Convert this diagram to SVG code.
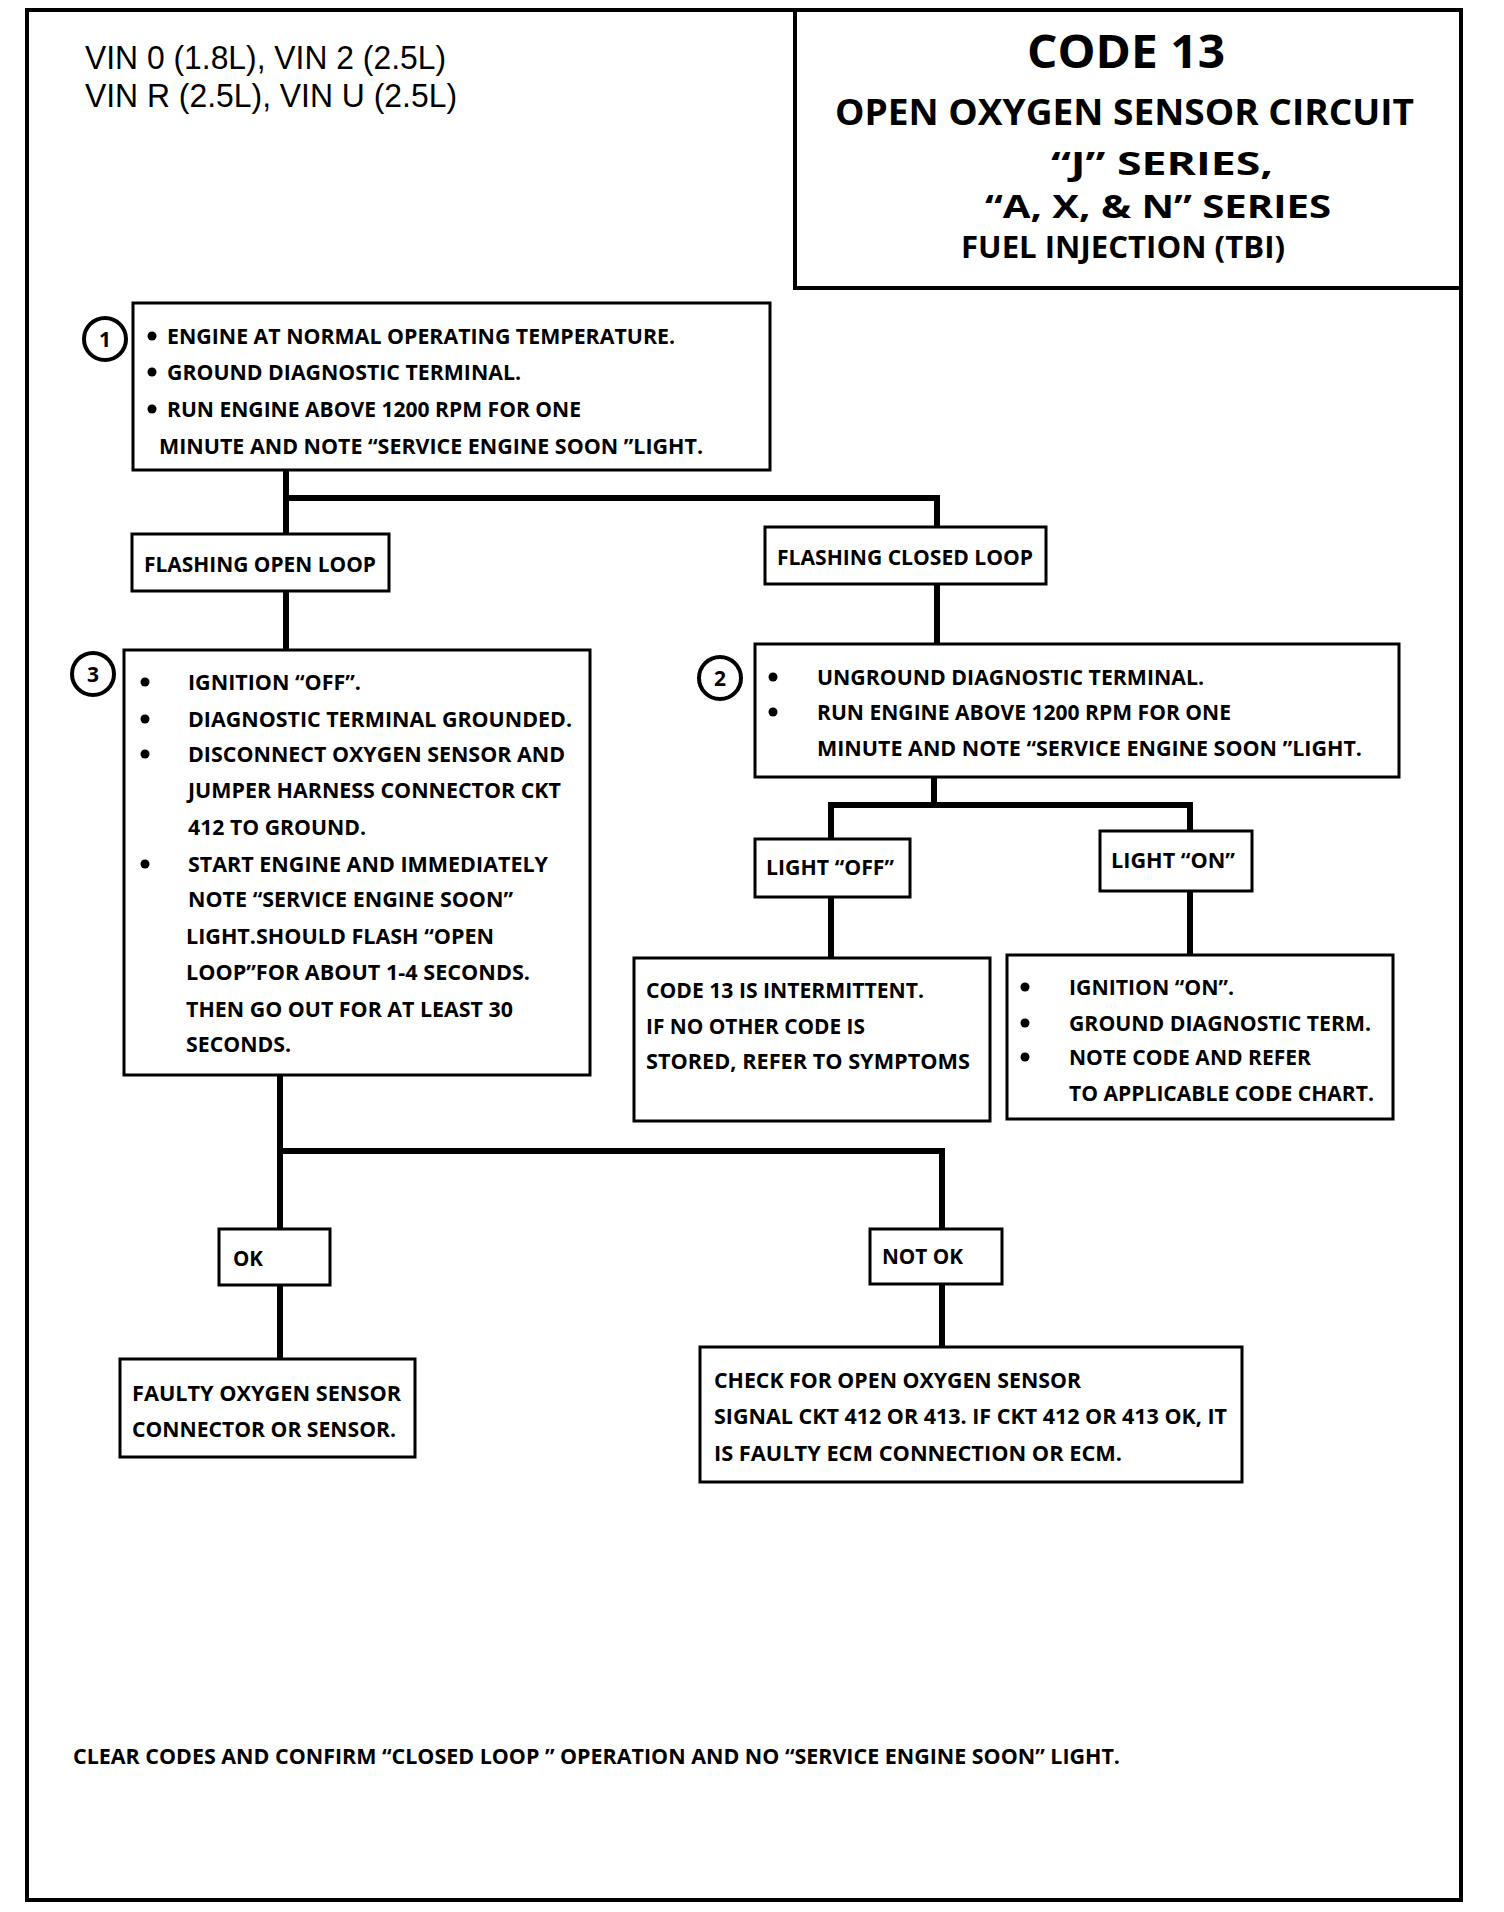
<svg xmlns="http://www.w3.org/2000/svg" width="1504" height="1912" viewBox="0 0 1504 1912">
<style>
.bg{fill:#fff}
.box{fill:#fff;stroke:#000;stroke-width:3}
.frame{fill:none;stroke:#000;stroke-width:4}
.wire{fill:none;stroke:#000;stroke-width:6;stroke-linecap:square}
.t{font-family:"Open Sans","Liberation Sans",sans-serif;font-weight:700;font-size:21px;fill:#000}
.ttl{font-family:"Open Sans","Liberation Sans",sans-serif;font-weight:700;fill:#000}
.vin{font-family:"Liberation Sans",Arial,sans-serif;font-size:33px;fill:#000}
.num{fill:#fff;stroke:#000;stroke-width:4}
.numt{font-family:"Open Sans","Liberation Sans",sans-serif;font-weight:700;font-size:21px;fill:#000;text-anchor:middle}
.dot{fill:#000}
</style>
<rect class="bg" x="0" y="0" width="1504" height="1912"/>
<rect class="frame" x="27" y="10" width="1434" height="1890"/>

<g id="header">
<text class="vin" x="85" y="69" textLength="361" lengthAdjust="spacingAndGlyphs">VIN 0 (1.8L), VIN 2 (2.5L)</text>
<text class="vin" x="85" y="107" textLength="372" lengthAdjust="spacingAndGlyphs">VIN R (2.5L), VIN U (2.5L)</text>
</g>

<g id="title">
<path class="frame" d="M795 10 V288 H1461"/>
<text class="ttl" x="1027" y="68" font-size="46" textLength="198" lengthAdjust="spacingAndGlyphs">CODE 13</text>
<text class="ttl" x="835" y="125" font-size="35" textLength="579" lengthAdjust="spacingAndGlyphs">OPEN OXYGEN SENSOR CIRCUIT</text>
<text class="ttl" x="1051" y="175" font-size="32" textLength="222" lengthAdjust="spacingAndGlyphs">“J”  SERIES,</text>
<text class="ttl" x="985" y="218" font-size="32" textLength="346" lengthAdjust="spacingAndGlyphs">“A, X, &amp; N” SERIES</text>
<text class="ttl" x="961" y="258" font-size="30" textLength="324" lengthAdjust="spacingAndGlyphs">FUEL INJECTION (TBI)</text>
</g>

<g id="connectors">
<path class="wire" d="M286 470 V532"/>
<path class="wire" d="M286 498 H937 V526"/>
<path class="wire" d="M286 591 V650"/>
<path class="wire" d="M937 584 V644"/>
<path class="wire" d="M934 777 V805"/>
<path class="wire" d="M831 805 H1190"/>
<path class="wire" d="M831 805 V839"/>
<path class="wire" d="M1190 805 V831"/>
<path class="wire" d="M831 897 V958"/>
<path class="wire" d="M1190 891 V955"/>
<path class="wire" d="M280 1075 V1229"/>
<path class="wire" d="M280 1151 H942 V1229"/>
<path class="wire" d="M280 1285 V1359"/>
<path class="wire" d="M942 1284 V1347"/>
</g>

<g id="step1">
<rect class="box" x="133" y="303" width="637" height="167"/>
<circle class="num" cx="105" cy="339" r="21"/>
<text class="numt" x="105" y="347">1</text>
<circle class="dot" cx="152" cy="336" r="4.5"/>
<circle class="dot" cx="152" cy="372" r="4.5"/>
<circle class="dot" cx="152" cy="409" r="4.5"/>
<text class="t" x="167" y="344" textLength="508" lengthAdjust="spacingAndGlyphs">ENGINE AT NORMAL OPERATING TEMPERATURE.</text>
<text class="t" x="167" y="380" textLength="354" lengthAdjust="spacingAndGlyphs">GROUND DIAGNOSTIC TERMINAL.</text>
<text class="t" x="167" y="417" textLength="414" lengthAdjust="spacingAndGlyphs">RUN ENGINE ABOVE 1200 RPM FOR ONE</text>
<text class="t" x="159" y="454" textLength="544" lengthAdjust="spacingAndGlyphs">MINUTE AND NOTE “SERVICE ENGINE SOON ”LIGHT.</text>
</g>

<g id="open-loop">
<rect class="box" x="132" y="534" width="257" height="57"/>
<text class="t" x="144" y="572" textLength="232" lengthAdjust="spacingAndGlyphs">FLASHING OPEN LOOP</text>
</g>

<g id="closed-loop">
<rect class="box" x="765" y="527" width="281" height="57"/>
<text class="t" x="777" y="565" textLength="256" lengthAdjust="spacingAndGlyphs">FLASHING CLOSED LOOP</text>
</g>

<g id="step3">
<rect class="box" x="124" y="650" width="466" height="425"/>
<circle class="num" cx="93" cy="674" r="21"/>
<text class="numt" x="93" y="682">3</text>
<circle class="dot" cx="145" cy="682" r="4.5"/>
<circle class="dot" cx="145" cy="719" r="4.5"/>
<circle class="dot" cx="145" cy="754" r="4.5"/>
<circle class="dot" cx="145" cy="864" r="4.5"/>
<text class="t" x="188" y="690" textLength="173" lengthAdjust="spacingAndGlyphs">IGNITION “OFF”.</text>
<text class="t" x="188" y="727" textLength="384" lengthAdjust="spacingAndGlyphs">DIAGNOSTIC TERMINAL GROUNDED.</text>
<text class="t" x="188" y="762" textLength="377" lengthAdjust="spacingAndGlyphs">DISCONNECT OXYGEN SENSOR AND</text>
<text class="t" x="188" y="798" textLength="373" lengthAdjust="spacingAndGlyphs">JUMPER HARNESS CONNECTOR CKT</text>
<text class="t" x="188" y="835" textLength="178" lengthAdjust="spacingAndGlyphs">412 TO GROUND.</text>
<text class="t" x="188" y="872" textLength="360" lengthAdjust="spacingAndGlyphs">START ENGINE AND IMMEDIATELY</text>
<text class="t" x="188" y="907" textLength="325" lengthAdjust="spacingAndGlyphs">NOTE “SERVICE ENGINE SOON”</text>
<text class="t" x="186" y="944" textLength="308" lengthAdjust="spacingAndGlyphs">LIGHT.SHOULD FLASH “OPEN</text>
<text class="t" x="186" y="980" textLength="344" lengthAdjust="spacingAndGlyphs">LOOP”FOR ABOUT 1-4 SECONDS.</text>
<text class="t" x="186" y="1017" textLength="327" lengthAdjust="spacingAndGlyphs">THEN GO OUT FOR AT LEAST 30</text>
<text class="t" x="186" y="1052" textLength="105" lengthAdjust="spacingAndGlyphs">SECONDS.</text>
</g>

<g id="step2">
<rect class="box" x="755" y="644" width="644" height="133"/>
<circle class="num" cx="720" cy="678" r="21"/>
<text class="numt" x="720" y="686">2</text>
<circle class="dot" cx="773" cy="677" r="4.5"/>
<circle class="dot" cx="773" cy="712" r="4.5"/>
<text class="t" x="817" y="685" textLength="387" lengthAdjust="spacingAndGlyphs">UNGROUND DIAGNOSTIC TERMINAL.</text>
<text class="t" x="817" y="720" textLength="414" lengthAdjust="spacingAndGlyphs">RUN ENGINE ABOVE 1200 RPM FOR ONE</text>
<text class="t" x="817" y="756" textLength="545" lengthAdjust="spacingAndGlyphs">MINUTE  AND NOTE “SERVICE ENGINE SOON ”LIGHT.</text>
</g>

<g id="light-off">
<rect class="box" x="755" y="839" width="155" height="58"/>
<text class="t" x="766" y="875" textLength="128" lengthAdjust="spacingAndGlyphs">LIGHT “OFF”</text>
</g>

<g id="light-on">
<rect class="box" x="1100" y="831" width="152" height="60"/>
<text class="t" x="1111" y="868" textLength="124" lengthAdjust="spacingAndGlyphs">LIGHT “ON”</text>
</g>

<g id="intermittent">
<rect class="box" x="634" y="958" width="356" height="163"/>
<text class="t" x="646" y="998" textLength="278" lengthAdjust="spacingAndGlyphs">CODE 13 IS INTERMITTENT.</text>
<text class="t" x="646" y="1034" textLength="219" lengthAdjust="spacingAndGlyphs">IF NO OTHER CODE IS</text>
<text class="t" x="646" y="1069" textLength="324" lengthAdjust="spacingAndGlyphs">STORED, REFER TO SYMPTOMS</text>
</g>

<g id="ignition-on">
<rect class="box" x="1007" y="955" width="386" height="164"/>
<circle class="dot" cx="1025" cy="987" r="4.5"/>
<circle class="dot" cx="1025" cy="1023" r="4.5"/>
<circle class="dot" cx="1025" cy="1057" r="4.5"/>
<text class="t" x="1069" y="995" textLength="165" lengthAdjust="spacingAndGlyphs">IGNITION “ON”.</text>
<text class="t" x="1069" y="1031" textLength="302" lengthAdjust="spacingAndGlyphs">GROUND DIAGNOSTIC TERM.</text>
<text class="t" x="1069" y="1065" textLength="242" lengthAdjust="spacingAndGlyphs">NOTE CODE AND REFER</text>
<text class="t" x="1069" y="1101" textLength="305" lengthAdjust="spacingAndGlyphs">TO APPLICABLE CODE CHART.</text>
</g>

<g id="ok">
<rect class="box" x="219" y="1229" width="111" height="56"/>
<text class="t" x="233" y="1266" textLength="30" lengthAdjust="spacingAndGlyphs">OK</text>
</g>

<g id="not-ok">
<rect class="box" x="870" y="1229" width="132" height="55"/>
<text class="t" x="882" y="1264" textLength="81" lengthAdjust="spacingAndGlyphs">NOT OK</text>
</g>

<g id="faulty-sensor">
<rect class="box" x="120" y="1359" width="295" height="98"/>
<text class="t" x="132" y="1401" textLength="269" lengthAdjust="spacingAndGlyphs">FAULTY OXYGEN SENSOR</text>
<text class="t" x="132" y="1437" textLength="264" lengthAdjust="spacingAndGlyphs">CONNECTOR OR SENSOR.</text>
</g>

<g id="check-open">
<rect class="box" x="700" y="1347" width="542" height="135"/>
<text class="t" x="714" y="1388" textLength="367" lengthAdjust="spacingAndGlyphs">CHECK FOR OPEN OXYGEN SENSOR</text>
<text class="t" x="714" y="1424" textLength="513" lengthAdjust="spacingAndGlyphs">SIGNAL CKT 412 OR 413.  IF CKT 412 OR 413 OK, IT</text>
<text class="t" x="714" y="1461" textLength="408" lengthAdjust="spacingAndGlyphs">IS FAULTY  ECM CONNECTION OR ECM.</text>
</g>

<g id="footer">
<text class="t" x="73" y="1764" textLength="1047" lengthAdjust="spacingAndGlyphs">CLEAR CODES AND CONFIRM “CLOSED LOOP ” OPERATION AND NO “SERVICE ENGINE SOON” LIGHT.</text>
</g>
</svg>
